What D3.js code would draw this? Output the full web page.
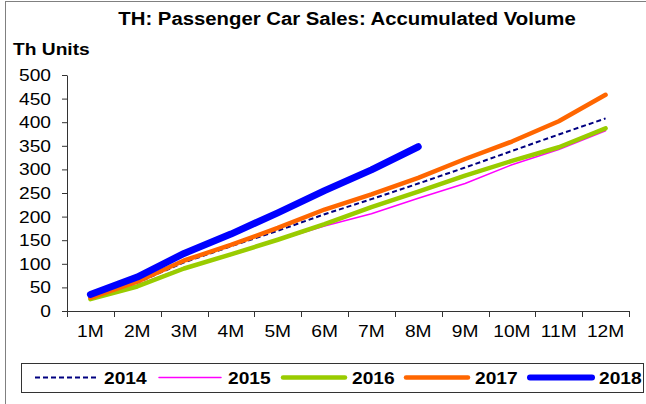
<!DOCTYPE html>
<html>
<head>
<meta charset="utf-8">
<script src="https://cdn.jsdelivr.net/npm/d3@7"></script>
<style>
  html, body { margin: 0; padding: 0; background: #fff; }
  svg { display: block; font-family: "Liberation Sans", Arial, sans-serif; }
</style>
</head>
<body>
<svg id="chart" width="646" height="404"></svg>
<script>
// Cumulative passenger car sales by month, thousand units
const months = ["1M","2M","3M","4M","5M","6M","7M","8M","9M","10M","11M","12M"];
const yTicks = [0, 50, 100, 150, 200, 250, 300, 350, 400, 450, 500];
const years = ["2014", "2015", "2016", "2017", "2018"];
const s2014 = [27, 60, 103, 137, 170, 205, 237, 270, 304, 339, 374, 408];
const s2015 = [26, 55, 92, 118, 150, 180, 206, 239, 270, 310, 342, 382];
const s2016 = [25, 52, 90, 120, 151, 184, 220, 253, 287, 318, 347, 387];
const s2017 = [28, 62, 107, 140, 176, 215, 247, 282, 322, 359, 402, 458];
const s2018 = [35, 72, 122, 163, 208, 255, 299, 348];

const seriesStyle = {
  "2014": { color: "#000080", width: 2,   dash: "5,3" },
  "2015": { color: "#FF00FF", width: 1.5, dash: null },
  "2016": { color: "#99CC00", width: 4.5, dash: null },
  "2017": { color: "#FF6600", width: 4.5, dash: null },
  "2018": { color: "#0000FF", width: 7,   dash: null }
};
const seriesData = { "2014": s2014, "2015": s2015, "2016": s2016, "2017": s2017, "2018": s2018 };

const svg = d3.select("#chart");

// text is drawn slightly widened, as in the original chart export
const STRETCH = 1.13;
function label(parent, x, y, str, opts) {
  return parent.append("text")
    .attr("transform", `translate(${x},${y}) scale(${STRETCH},1)`)
    .attr("text-anchor", opts.anchor || "start")
    .attr("font-size", opts.size)
    .attr("font-weight", opts.bold ? "bold" : "normal")
    .attr("fill", "#000")
    .text(str);
}

// outer frame
svg.append("rect")
  .attr("x", 5.5).attr("y", 1.5)
  .attr("width", 660).attr("height", 420)
  .attr("fill", "none").attr("stroke", "#808080").attr("stroke-width", 1);

const plot = { left: 67, right: 629, top: 75, bottom: 311 };

const x = d3.scaleBand().domain(months).range([plot.left, plot.right]).padding(0);
const y = d3.scaleLinear().domain([0, 500]).range([plot.bottom, plot.top]);

// title and unit label
label(svg, 347, 25, "TH: Passenger Car Sales: Accumulated Volume", { size: 18, bold: true, anchor: "middle" });
label(svg, 13, 55, "Th Units", { size: 17, bold: true });

// y axis (line and ticks from d3, labels placed from the same scale)
const yAxis = svg.append("g")
  .attr("transform", `translate(${plot.left},0)`)
  .call(d3.axisLeft(y).tickValues(yTicks).tickSize(5).tickSizeOuter(0).tickFormat(""));
yAxis.selectAll("line, path").attr("stroke", "#333");
yTicks.forEach(v => label(svg, 51, y(v) + 6, String(v), { size: 17, anchor: "end" }));

// x axis: ticks on band boundaries, labels centred in bands
const xAxisG = svg.append("g").attr("transform", `translate(0,${plot.bottom})`);
xAxisG.append("line")
  .attr("x1", plot.left).attr("x2", plot.right)
  .attr("y1", 0.5).attr("y2", 0.5).attr("stroke", "#333");
const boundaries = months.map(m => x(m)).concat([plot.right]);
xAxisG.selectAll("line.tk").data(boundaries).join("line")
  .attr("class", "tk")
  .attr("x1", d => Math.round(d) + 0.5).attr("x2", d => Math.round(d) + 0.5)
  .attr("y1", 0).attr("y2", 6).attr("stroke", "#333");
months.forEach(m => label(svg, x(m) + x.bandwidth() / 2, plot.bottom + 26, m, { size: 17, anchor: "middle" }));

// series lines
const line = d3.line()
  .x((d, i) => x(months[i]) + x.bandwidth() / 2)
  .y(d => y(d));

years.forEach(yr => {
  const st = seriesStyle[yr];
  svg.append("path")
    .datum(seriesData[yr])
    .attr("d", line)
    .attr("fill", "none")
    .attr("stroke", st.color)
    .attr("stroke-width", st.width)
    .attr("stroke-linecap", st.dash ? "butt" : "round")
    .attr("stroke-linejoin", "round")
    .attr("stroke-dasharray", st.dash);
});

// legend
const legend = svg.append("g");
legend.append("rect")
  .attr("x", 21.5).attr("y", 363.5)
  .attr("width", 622).attr("height", 29)
  .attr("fill", "#fff").attr("stroke", "#333").attr("stroke-width", 1);

const legendX = [35, 159, 283, 406, 530];
years.forEach((yr, i) => {
  const st = seriesStyle[yr];
  const lx = legendX[i];
  legend.append("line")
    .attr("x1", lx).attr("x2", lx + 62)
    .attr("y1", 377.5).attr("y2", 377.5)
    .attr("stroke", st.color)
    .attr("stroke-width", Math.min(st.width, 6))
    .attr("stroke-linecap", st.dash ? "butt" : "round")
    .attr("stroke-dasharray", st.dash);
  label(legend, lx + 69, 384, yr, { size: 17, bold: true });
});
</script>
</body>
</html>
